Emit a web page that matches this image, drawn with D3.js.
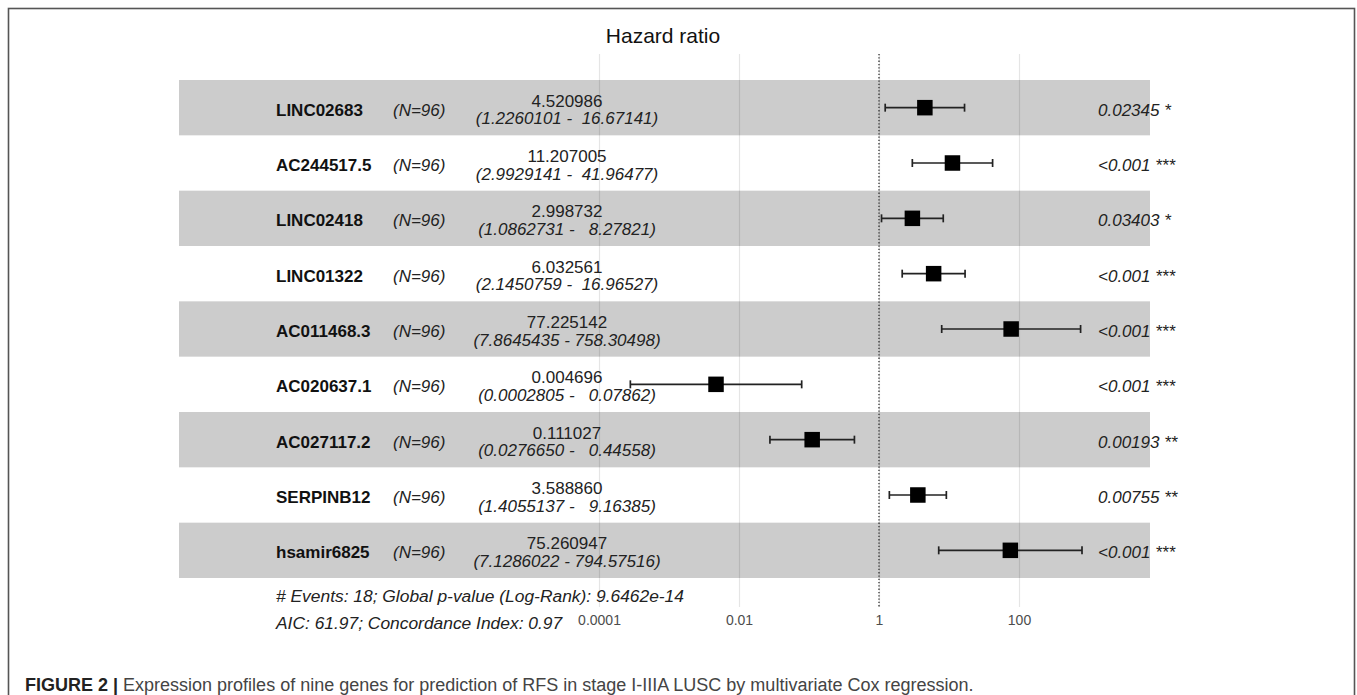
<!DOCTYPE html>
<html>
<head>
<meta charset="utf-8">
<script src="https://cdn.jsdelivr.net/npm/d3@7"></script>
<style>
  html, body { margin: 0; padding: 0; background: #fff; }
  svg { display: block; font-family: "Liberation Sans", Arial, sans-serif; }
</style>
</head>
<body>
<svg id="chart" width="1357" height="695"></svg>
<script>
// Multivariate Cox model: nine genes, hazard ratios with 95% CI
const genes = ["LINC02683", "AC244517.5", "LINC02418", "LINC01322", "AC011468.3",
               "AC020637.1", "AC027117.2", "SERPINB12", "hsamir6825"];
const nSamples = [96, 96, 96, 96, 96, 96, 96, 96, 96];
const hazardRatio = [4.520986, 11.207005, 2.998732, 6.032561, 77.225142,
                     0.004696, 0.111027, 3.588860, 75.260947];
const ciLower = [1.2260101, 2.9929141, 1.0862731, 2.1450759, 7.8645435,
                 0.0002805, 0.0276650, 1.4055137, 7.1286022];
const ciUpper = [16.67141, 41.96477, 8.27821, 16.96527, 758.30498,
                 0.07862, 0.44558, 9.16385, 794.57516];
const pLabels = ["0.02345 *", "<0.001 ***", "0.03403 *", "<0.001 ***", "<0.001 ***",
                 "<0.001 ***", "0.00193 **", "0.00755 **", "<0.001 ***"];
const xTicks = [0.0001, 0.01, 1, 100];
const xTickLabels = ["0.0001", "0.01", "1", "100"];
const footerLines = ["# Events: 18; Global p-value (Log-Rank): 9.6462e-14",
                     "AIC: 61.97; Concordance Index: 0.97"];

const rows = genes.map((g, i) => ({
  gene: g, n: nSamples[i], hr: hazardRatio[i],
  lo: ciLower[i], hi: ciUpper[i], p: pLabels[i], i
}));

const svg = d3.select("#chart");

// outer frame
svg.append("rect")
  .attr("x", 8.5).attr("y", 8.5)
  .attr("width", 1346).attr("height", 720)
  .attr("fill", "none").attr("stroke", "#555").attr("stroke-width", 1.6);

// log scale for hazard ratio
const x = d3.scaleLog().domain([0.0001, 100]).range([599, 1019]);
const y = d3.scaleBand().domain(genes).range([80, 578]).padding(0);
const bandLeft = 179, bandRight = 1150;
const gridTop = 54, gridBottom = 607;

// alternating row bands
svg.append("g").selectAll("rect")
  .data(rows.filter(d => d.i % 2 === 0))
  .join("rect")
  .attr("x", bandLeft)
  .attr("y", d => y(d.gene))
  .attr("width", bandRight - bandLeft)
  .attr("height", y.bandwidth())
  .attr("fill", "#cccccc");

// vertical grid lines with ticks
const axis = d3.axisBottom(x)
  .tickValues(xTicks)
  .tickFormat((d, i) => xTickLabels[i])
  .tickSize(-(gridBottom - gridTop))
  .tickPadding(8);
const gAxis = svg.append("g")
  .attr("transform", `translate(0,${gridBottom})`)
  .call(axis);
gAxis.select(".domain").remove();
gAxis.selectAll(".tick line")
  .attr("stroke", "#000").attr("stroke-opacity", 0.1).attr("stroke-width", 1.2);
gAxis.selectAll(".tick text")
  .attr("fill", "#4d4d4d")
  .style("font-size", "14px")
  .style("font-family", "Liberation Sans, Arial, sans-serif")
  .attr("dy", "0.71em").attr("y", 8);

// reference line at HR = 1
svg.append("line")
  .attr("x1", x(1)).attr("x2", x(1))
  .attr("y1", gridTop).attr("y2", gridBottom)
  .attr("stroke", "#333").attr("stroke-width", 1.3)
  .attr("stroke-dasharray", "1.3,2");

// title
svg.append("text")
  .attr("x", 663).attr("y", 43)
  .attr("text-anchor", "middle")
  .style("font-size", "21px")
  .attr("fill", "#111")
  .text("Hazard ratio");

const cy = d => y(d.gene) + y.bandwidth() / 2;

// row labels
const labels = svg.append("g");
labels.selectAll("text.gene")
  .data(rows).join("text")
  .attr("class", "gene")
  .attr("x", 276).attr("y", d => cy(d) + 8)
  .style("font-size", "17px").style("font-weight", "bold")
  .attr("fill", "#111")
  .text(d => d.gene);

labels.selectAll("text.n")
  .data(rows).join("text")
  .attr("class", "n")
  .attr("x", 393).attr("y", d => cy(d) + 8)
  .style("font-size", "17px").style("font-style", "italic")
  .attr("fill", "#222")
  .text(d => `(N=${d.n})`);

const fEst = d3.format(".6f");
const fLo = d3.format(".7f");
const fHi = d3.format(".5f");

labels.selectAll("text.est")
  .data(rows).join("text")
  .attr("class", "est")
  .attr("x", 567).attr("y", d => cy(d) - 1)
  .attr("text-anchor", "middle")
  .style("font-size", "17px")
  .attr("fill", "#222")
  .text(d => fEst(d.hr));

labels.selectAll("text.ci")
  .data(rows).join("text")
  .attr("class", "ci")
  .attr("x", 567).attr("y", d => cy(d) + 16.5)
  .attr("text-anchor", "middle")
  .style("font-size", "17px").style("font-style", "italic")
  .style("white-space", "pre")
  .attr("xml:space", "preserve")
  .attr("fill", "#222")
  .text(d => `(${fLo(d.lo)} - ${fHi(d.hi).padStart(9, " ")})`);

labels.selectAll("text.p")
  .data(rows).join("text")
  .attr("class", "p")
  .attr("x", 1098).attr("y", d => cy(d) + 8)
  .style("font-size", "17px").style("font-style", "italic")
  .attr("fill", "#222")
  .text(d => d.p);

// confidence intervals and point estimates
const marks = svg.append("g");
marks.selectAll("line.ci")
  .data(rows).join("line")
  .attr("class", "ci")
  .attr("x1", d => x(d.lo)).attr("x2", d => x(d.hi))
  .attr("y1", cy).attr("y2", cy)
  .attr("stroke", "#222").attr("stroke-width", 1.7);
marks.selectAll("line.capL")
  .data(rows).join("line")
  .attr("class", "capL")
  .attr("x1", d => x(d.lo)).attr("x2", d => x(d.lo))
  .attr("y1", d => cy(d) - 4).attr("y2", d => cy(d) + 4)
  .attr("stroke", "#222").attr("stroke-width", 1.7);
marks.selectAll("line.capR")
  .data(rows).join("line")
  .attr("class", "capR")
  .attr("x1", d => x(d.hi)).attr("x2", d => x(d.hi))
  .attr("y1", d => cy(d) - 4).attr("y2", d => cy(d) + 4)
  .attr("stroke", "#222").attr("stroke-width", 1.7);
const sq = 15.5;
marks.selectAll("rect.pt")
  .data(rows).join("rect")
  .attr("class", "pt")
  .attr("x", d => x(d.hr) - sq / 2)
  .attr("y", d => cy(d) - sq / 2)
  .attr("width", sq).attr("height", sq)
  .attr("fill", "#000");

// model summary
svg.append("g").selectAll("text")
  .data(footerLines).join("text")
  .attr("x", 276).attr("y", (d, i) => 602 + i * 26.5)
  .style("font-size", "17.4px").style("font-style", "italic")
  .attr("fill", "#222")
  .text(d => d);

// figure caption
const cap = svg.append("text")
  .attr("x", 25).attr("y", 691)
  .style("font-size", "18px")
  .attr("fill", "#444");
cap.append("tspan").style("font-weight", "bold").attr("fill", "#222").text("FIGURE 2 | ");
cap.append("tspan").text("Expression profiles of nine genes for prediction of RFS in stage I-IIIA LUSC by multivariate Cox regression.");
</script>
</body>
</html>
